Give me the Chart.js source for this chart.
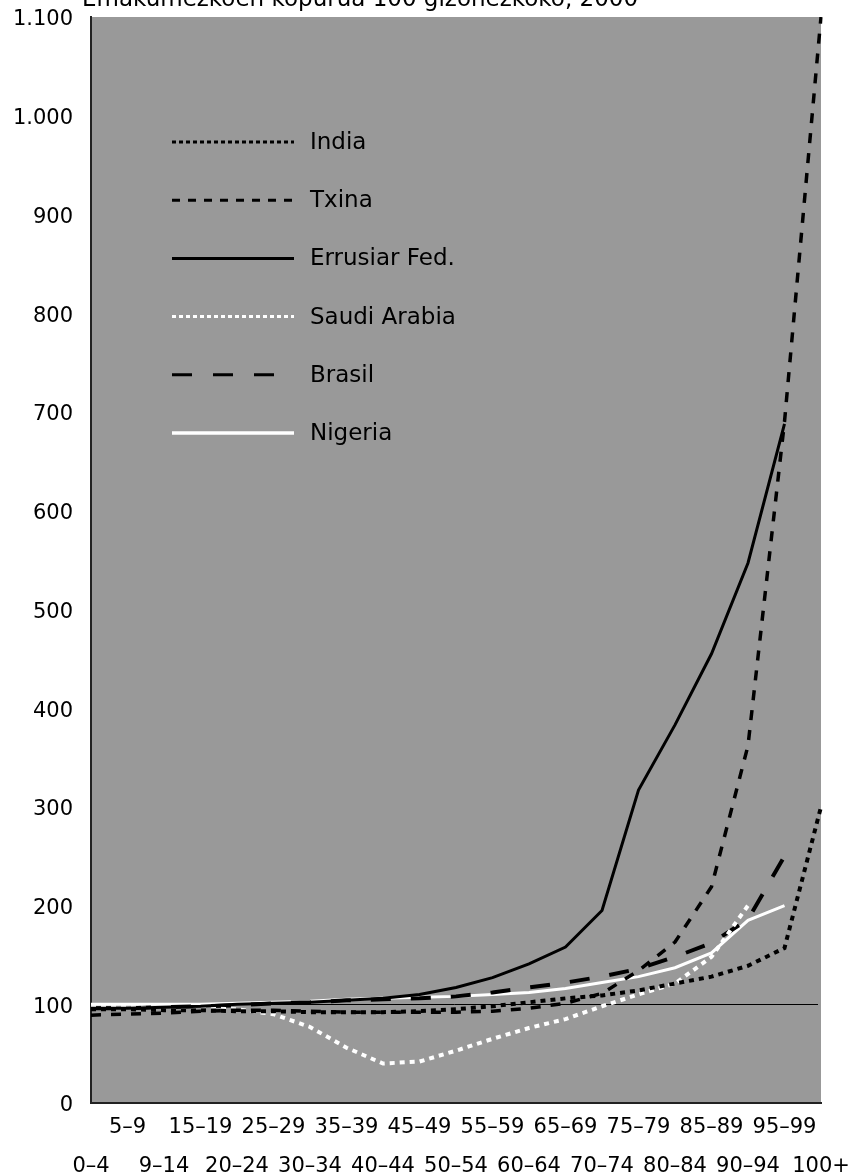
<!DOCTYPE html>
<html>
<head>
<meta charset="utf-8">
<script src="https://cdn.jsdelivr.net/npm/chart.js@4/dist/chart.umd.min.js"></script>
<style>
  body { margin: 0; background: #fff; }
</style>
</head>
<body>
<canvas id="chart-ratio" width="850" height="1175"></canvas>
<script>
// emakumeak 100 gizonezkoko, adin taldeka (2000)
const ageGroups = ['0–4','5–9','9–14','15–19','20–24','25–29','30–34','35–39','40–44','45–49',
  '50–54','55–59','60–64','65–69','70–74','75–79','80–84','85–89','90–94','95–99','100+'];

const india       = [95, 95, 94, 94, 93, 93, 92, 92, 92, 93, 95, 98, 102, 106, 109, 114, 121, 128, 139, 157, 300];
const txina       = [89, 90, 91, 93, 94, 94, 93, 92, 92, 92, 92, 93, 96, 101, 111, 134, 163, 219, 362, 690, 1100];
const errusia     = [96, 96, 97, 98, 100, 101, 102, 104, 106, 110, 117, 127, 141, 158, 195, 317, 383, 455, 547, 688, null];
const saudiArabia = [97, 97, 96, 96, 95, 90, 77, 56, 40, 42, 53, 65, 76, 85, 98, 110, 121, 148, 200, null, null];
const brasil      = [96, 96, 97, 98, 99, 101, 102, 104, 105, 106, 108, 112, 117, 122, 128, 136, 148, 162, 186, 250, null];
const nigeria     = [100, 100, 100, 100, 101, 102, 103, 105, 106, 107, 108, 110, 112, 116, 122, 128, 137, 152, 185, 200, null];

const yTicks = [0, 100, 200, 300, 400, 500, 600, 700, 800, 900, 1000, 1100];
const refValue = 100;
const titleText = 'Emakumezkoen kopurua 100 gizonezkoko, 2000';

const FONT = '"DejaVu Sans", sans-serif';

function dotted(label, data, color, dash, width, legendDash, legendWidth){
  return {
    label: label,
    data: data,
    borderColor: color,
    backgroundColor: color,
    borderDash: dash,
    borderWidth: width,
    legendDash: legendDash,
    legendWidth: legendWidth,
    pointRadius: 0,
    tension: 0,
    spanGaps: false,
    fill: false
  };
}

// gray plot box + reference line at 100
const plotBox = {
  id: 'plotBox',
  beforeDraw(chart){
    const {ctx, chartArea: a} = chart;
    ctx.save();
    ctx.fillStyle = '#fff';
    ctx.fillRect(0, 0, chart.width, chart.height);
    ctx.fillStyle = '#999999';
    ctx.fillRect(a.left, a.top, a.right - a.left, a.bottom - a.top);
    ctx.restore();
  },
  beforeDatasetsDraw(chart){
    const {ctx, chartArea: a, scales} = chart;
    const y = Math.round(scales.y.getPixelForValue(refValue)) + 0.5;
    ctx.save();
    ctx.strokeStyle = '#000';
    ctx.lineWidth = 1;
    ctx.beginPath();
    ctx.moveTo(a.left, y);
    ctx.lineTo(a.right - 3, y);
    ctx.stroke();
    ctx.restore();
  }
};

// legend inside the plot, long line samples
const lineLegend = {
  id: 'lineLegend',
  afterDatasetsDraw(chart){
    const {ctx, chartArea: a} = chart;
    ctx.save();
    chart.data.datasets.forEach(function(ds, i){
      const y = 142 + i * 58.2;
      ctx.strokeStyle = ds.borderColor;
      ctx.lineWidth = ds.legendWidth;
      ctx.setLineDash(ds.legendDash);
      ctx.beginPath();
      ctx.moveTo(a.left + 81, y);
      ctx.lineTo(a.left + 203, y);
      ctx.stroke();
      ctx.setLineDash([]);
      ctx.fillStyle = '#000';
      ctx.font = '23px ' + FONT;
      ctx.textBaseline = 'middle';
      ctx.textAlign = 'left';
      ctx.fillText(ds.label, a.left + 219, y + 1);
    });
    ctx.restore();
  },
  afterDraw(chart){
    // title is cut by the top edge, like in the original
    const ctx = chart.ctx;
    ctx.save();
    ctx.fillStyle = '#000';
    ctx.font = '23px ' + FONT;
    ctx.textBaseline = 'alphabetic';
    ctx.textAlign = 'left';
    ctx.fillText(titleText, 82, 6);
    ctx.restore();
  }
};

new Chart(document.getElementById('chart-ratio'), {
  type: 'line',
  data: {
    labels: ageGroups,
    datasets: [
      dotted('India', india, '#000', [5, 5], 4, [4, 3], 3),
      dotted('Txina', txina, '#000', [10, 10], 3.5, [8, 8], 3),
      dotted('Errusiar Fed.', errusia, '#000', [], 3, [], 3),
      dotted('Saudi Arabia', saudiArabia, '#fff', [5, 5], 4, [4, 3], 3),
      dotted('Brasil', brasil, '#000', [20, 20], 4, [20, 21], 3),
      dotted('Nigeria', nigeria, '#fff', [], 3, [], 3.5)
    ]
  },
  options: {
    responsive: false,
    devicePixelRatio: 1,
    animation: false,
    layout: { padding: { top: 17, right: 29, left: 0, bottom: 0 } },
    plugins: { legend: { display: false }, tooltip: { enabled: false }, title: { display: false } },
    scales: {
      x: {
        type: 'category',
        offset: false,
        grid: { display: false, drawTicks: false },
        border: { display: true, color: '#222', width: 2 },
        // fixed box, no extra overhang from the end labels
        afterFit: s => { s.height = 72; s.paddingLeft = 0; s.paddingRight = 0; },
        ticks: {
          autoSkip: false,
          maxRotation: 0,
          padding: 5,
          color: '#000',
          font: { family: FONT, size: 21, lineHeight: 1.85 },
          // odd groups on the upper row, even ones below
          callback: function(val, i){ const l = ageGroups[i]; return i % 2 ? [l, ''] : ['', l]; }
        }
      },
      y: {
        min: 0,
        max: 1100,
        afterFit: s => { s.width = 91; s.paddingTop = 0; s.paddingBottom = 0; },
        afterBuildTicks: s => { s.ticks = yTicks.map(v => ({value: v})); },
        grid: { display: false, drawTicks: false },
        border: { display: true, color: '#222', width: 2 },
        ticks: {
          padding: 18,
          labelOffset: 3,
          color: '#000',
          font: { family: FONT, size: 21 },
          callback: v => String(v).replace(/\B(?=(\d{3})+(?!\d))/g, '.')
        }
      }
    }
  },
  plugins: [plotBox, lineLegend]
});
</script>
</body>
</html>
